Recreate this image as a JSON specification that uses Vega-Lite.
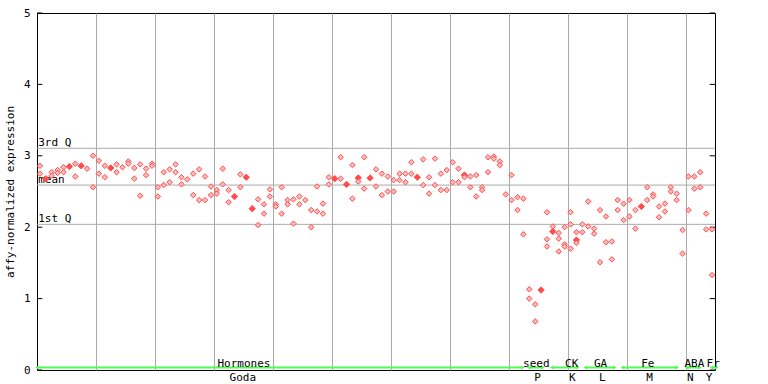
{
  "$schema": "https://vega.github.io/schema/vega-lite/v6.json",
  "width": 678,
  "height": 357,
  "autosize": "none",
  "padding": {"left": 37, "top": 13, "right": 53, "bottom": 14},
  "background": "white",
  "config": {
    "font": "DejaVu Sans Mono",
    "view": {"stroke": "black", "strokeWidth": 1},
    "axis": {"labelFont": "DejaVu Sans Mono", "titleFont": "DejaVu Sans Mono"}
  },
  "datasets": {
    "pts": [
      {"s":0,"v":2.86,"n":1},{"s":0,"v":2.75,"n":1},
      {"s":1,"v":2.68,"n":2},
      {"s":2,"v":2.77,"n":1},{"s":2,"v":2.72,"n":1},
      {"s":3,"v":2.80,"n":1},{"s":3,"v":2.76,"n":1},
      {"s":4,"v":2.84,"n":1},{"s":4,"v":2.77,"n":1},
      {"s":5,"v":2.85,"n":2},
      {"s":6,"v":2.89,"n":1},{"s":6,"v":2.71,"n":1},
      {"s":7,"v":2.86,"n":2},
      {"s":8,"v":2.82,"n":1},
      {"s":9,"v":3.00,"n":1},{"s":9,"v":2.56,"n":1},
      {"s":10,"v":2.93,"n":1},{"s":10,"v":2.75,"n":1},
      {"s":11,"v":2.86,"n":1},{"s":11,"v":2.70,"n":1},
      {"s":12,"v":2.83,"n":2},
      {"s":13,"v":2.88,"n":1},{"s":13,"v":2.77,"n":1},
      {"s":14,"v":2.84,"n":1},
      {"s":15,"v":2.92,"n":1},{"s":15,"v":2.89,"n":1},
      {"s":16,"v":2.83,"n":1},{"s":16,"v":2.68,"n":1},
      {"s":17,"v":2.88,"n":1},{"s":17,"v":2.44,"n":1},
      {"s":18,"v":2.82,"n":1},{"s":18,"v":2.73,"n":1},
      {"s":19,"v":2.89,"n":1},{"s":19,"v":2.86,"n":1},
      {"s":20,"v":2.56,"n":1},{"s":20,"v":2.43,"n":1},
      {"s":21,"v":2.77,"n":1},{"s":21,"v":2.59,"n":1},
      {"s":22,"v":2.81,"n":1},{"s":22,"v":2.63,"n":1},
      {"s":23,"v":2.88,"n":1},{"s":23,"v":2.77,"n":1},
      {"s":24,"v":2.70,"n":1},{"s":24,"v":2.60,"n":1},
      {"s":25,"v":2.67,"n":1},
      {"s":26,"v":2.75,"n":1},{"s":26,"v":2.45,"n":1},
      {"s":27,"v":2.81,"n":1},{"s":27,"v":2.38,"n":1},
      {"s":28,"v":2.71,"n":1},{"s":28,"v":2.38,"n":1},
      {"s":29,"v":2.57,"n":1},{"s":29,"v":2.45,"n":1},
      {"s":30,"v":2.52,"n":1},{"s":30,"v":2.47,"n":1},
      {"s":31,"v":2.82,"n":1},{"s":31,"v":2.60,"n":1},
      {"s":32,"v":2.52,"n":1},{"s":32,"v":2.35,"n":1},
      {"s":33,"v":2.43,"n":2},
      {"s":34,"v":2.74,"n":1},{"s":34,"v":2.56,"n":1},
      {"s":35,"v":2.70,"n":2},
      {"s":36,"v":2.26,"n":2},
      {"s":37,"v":2.39,"n":1},{"s":37,"v":2.03,"n":1},
      {"s":38,"v":2.32,"n":1},{"s":38,"v":2.19,"n":1},
      {"s":39,"v":2.53,"n":1},{"s":39,"v":2.43,"n":1},
      {"s":40,"v":2.32,"n":1},{"s":40,"v":2.29,"n":1},
      {"s":41,"v":2.56,"n":1},{"s":41,"v":2.19,"n":1},
      {"s":42,"v":2.38,"n":1},{"s":42,"v":2.32,"n":1},
      {"s":43,"v":2.39,"n":1},{"s":43,"v":2.05,"n":1},
      {"s":44,"v":2.43,"n":1},{"s":44,"v":2.32,"n":1},
      {"s":45,"v":2.38,"n":1},
      {"s":46,"v":2.24,"n":1},{"s":46,"v":2.00,"n":1},
      {"s":47,"v":2.57,"n":1},{"s":47,"v":2.22,"n":1},
      {"s":48,"v":2.33,"n":1},{"s":48,"v":2.19,"n":1},
      {"s":49,"v":2.70,"n":1},{"s":49,"v":2.60,"n":1},
      {"s":50,"v":2.68,"n":2},
      {"s":51,"v":2.98,"n":1},{"s":51,"v":2.68,"n":1},
      {"s":52,"v":2.60,"n":2},
      {"s":53,"v":2.87,"n":1},{"s":53,"v":2.40,"n":1},
      {"s":54,"v":2.69,"n":2},{"s":54,"v":2.64,"n":1},
      {"s":55,"v":2.98,"n":1},{"s":55,"v":2.54,"n":1},
      {"s":56,"v":2.69,"n":2},
      {"s":57,"v":2.81,"n":1},{"s":57,"v":2.57,"n":1},
      {"s":58,"v":2.75,"n":1},{"s":58,"v":2.45,"n":1},
      {"s":59,"v":2.71,"n":1},{"s":59,"v":2.50,"n":1},
      {"s":60,"v":2.66,"n":1},{"s":60,"v":2.50,"n":1},
      {"s":61,"v":2.75,"n":1},{"s":61,"v":2.66,"n":1},
      {"s":62,"v":2.75,"n":1},{"s":62,"v":2.63,"n":1},
      {"s":63,"v":2.91,"n":1},{"s":63,"v":2.75,"n":1},
      {"s":64,"v":2.70,"n":2},
      {"s":65,"v":2.95,"n":1},{"s":65,"v":2.59,"n":1},
      {"s":66,"v":2.70,"n":1},{"s":66,"v":2.47,"n":1},
      {"s":67,"v":2.96,"n":1},{"s":67,"v":2.59,"n":1},
      {"s":68,"v":2.75,"n":1},{"s":68,"v":2.52,"n":1},
      {"s":69,"v":2.80,"n":1},{"s":69,"v":2.52,"n":1},
      {"s":70,"v":2.91,"n":1},{"s":70,"v":2.63,"n":1},
      {"s":71,"v":2.82,"n":1},{"s":71,"v":2.63,"n":1},
      {"s":72,"v":2.73,"n":2},{"s":72,"v":2.70,"n":1},
      {"s":73,"v":2.71,"n":1},{"s":73,"v":2.56,"n":1},
      {"s":74,"v":2.73,"n":1},{"s":74,"v":2.43,"n":1},
      {"s":75,"v":2.56,"n":1},{"s":75,"v":2.52,"n":1},
      {"s":76,"v":2.98,"n":1},{"s":76,"v":2.77,"n":1},
      {"s":77,"v":2.99,"n":1},{"s":77,"v":2.96,"n":1},
      {"s":78,"v":2.92,"n":1},{"s":78,"v":2.87,"n":1},
      {"s":79,"v":2.46,"n":1},
      {"s":80,"v":2.73,"n":1},{"s":80,"v":2.38,"n":1},
      {"s":81,"v":2.42,"n":1},{"s":81,"v":2.24,"n":1},
      {"s":82,"v":2.40,"n":1},{"s":82,"v":1.90,"n":1},
      {"s":83,"v":1.13,"n":1},{"s":83,"v":1.00,"n":1},
      {"s":84,"v":0.92,"n":1},{"s":84,"v":0.68,"n":1},
      {"s":85,"v":1.12,"n":2},
      {"s":86,"v":2.21,"n":1},{"s":86,"v":1.83,"n":1},{"s":86,"v":1.73,"n":1},
      {"s":87,"v":1.94,"n":2},{"s":87,"v":2.01,"n":1},
      {"s":88,"v":1.92,"n":1},{"s":88,"v":1.84,"n":1},{"s":88,"v":1.66,"n":1},
      {"s":89,"v":2.00,"n":1},{"s":89,"v":1.76,"n":1},{"s":89,"v":1.73,"n":1},
      {"s":90,"v":2.21,"n":1},{"s":90,"v":2.04,"n":1},{"s":90,"v":1.70,"n":1},
      {"s":91,"v":1.93,"n":1},{"s":91,"v":1.82,"n":2},{"s":91,"v":1.78,"n":1},
      {"s":92,"v":2.04,"n":1},{"s":92,"v":1.93,"n":1},
      {"s":93,"v":2.36,"n":1},{"s":93,"v":2.01,"n":1},
      {"s":94,"v":1.98,"n":1},{"s":94,"v":1.91,"n":1},
      {"s":95,"v":2.24,"n":1},{"s":95,"v":1.51,"n":1},
      {"s":96,"v":2.15,"n":1},{"s":96,"v":1.79,"n":1},
      {"s":97,"v":1.80,"n":1},{"s":97,"v":1.55,"n":1},
      {"s":98,"v":2.38,"n":1},{"s":98,"v":2.24,"n":1},
      {"s":99,"v":2.33,"n":1},{"s":99,"v":2.10,"n":1},
      {"s":100,"v":2.38,"n":1},{"s":100,"v":2.15,"n":1},
      {"s":101,"v":2.24,"n":1},{"s":101,"v":1.98,"n":1},
      {"s":102,"v":2.29,"n":2},
      {"s":103,"v":2.56,"n":1},{"s":103,"v":2.38,"n":1},
      {"s":104,"v":2.46,"n":1},{"s":104,"v":2.43,"n":1},
      {"s":105,"v":2.29,"n":1},{"s":105,"v":2.14,"n":1},
      {"s":106,"v":2.33,"n":1},{"s":106,"v":2.22,"n":1},
      {"s":107,"v":2.56,"n":1},{"s":107,"v":2.50,"n":1},
      {"s":108,"v":2.47,"n":1},{"s":108,"v":2.38,"n":1},
      {"s":109,"v":1.96,"n":1},{"s":109,"v":1.63,"n":1},
      {"s":110,"v":2.71,"n":1},{"s":110,"v":2.24,"n":1},
      {"s":111,"v":2.71,"n":1},{"s":111,"v":2.54,"n":1},
      {"s":112,"v":2.77,"n":1},{"s":112,"v":2.56,"n":1},
      {"s":113,"v":2.19,"n":1},{"s":113,"v":1.97,"n":1},
      {"s":114,"v":1.97,"n":1},{"s":114,"v":1.33,"n":1}
    ],
    "q": [
      {"name": "3rd Q", "v": 3.105},
      {"name": "mean", "v": 2.59},
      {"name": "1st Q", "v": 2.04}
    ],
    "groups": [
      {"tissue": "Hormones", "set": "Goda", "start": -0.5, "end": 81.9, "tx": 34.6, "sx": 34.4},
      {"tissue": "seed", "set": "P", "start": 82.9, "end": 85.3, "tx": 84.2, "sx": 84.4},
      {"tissue": "CK", "set": "K", "start": 86.8, "end": 91.2, "tx": 90.2, "sx": 90.3},
      {"tissue": "GA", "set": "L", "start": 92.5, "end": 97.5, "tx": 95.1, "sx": 95.4},
      {"tissue": "Fe", "set": "M", "start": 98.8, "end": 108.1, "tx": 103.1, "sx": 103.4},
      {"tissue": "ABA", "set": "N", "start": 109.7, "end": 111.9, "tx": 111.0, "sx": 110.3},
      {"tissue": "Fr", "set": "Y", "start": 113.9, "end": 114.8, "tx": 114.2, "sx": 113.5}
    ],
    "ticks": [{"t": 0}, {"t": 1}, {"t": 2}, {"t": 3}, {"t": 4}, {"t": 5}]
  },
  "layer": [
    {
      "data": {"name": "q"},
      "mark": {"type": "rule", "color": "#aaaaaa", "strokeWidth": 1},
      "encoding": {
        "y": {"field": "v", "type": "quantitative", "scale": {"domain": [0, 5], "nice": false, "zero": false},
          "axis": {"values": [0, 1, 2, 3, 4, 5], "format": "d", "ticks": false, "domain": false, "grid": false, "labelFontSize": 11, "labelColor": "black", "labelPadding": 7,
            "title": "affy-normalized expression", "titleFontSize": 11, "titleFontWeight": "normal", "titleColor": "black", "titlePadding": 8}}
      }
    },
    {
      "data": {"name": "q"},
      "mark": {"type": "text", "align": "left", "baseline": "alphabetic", "dy": -2, "fontSize": 11, "color": "black", "font": "DejaVu Sans Mono"},
      "encoding": {
        "x": {"datum": -0.3, "type": "quantitative"},
        "y": {"field": "v", "type": "quantitative"},
        "text": {"field": "name"}
      }
    },
    {
      "data": {"name": "ticks"},
      "mark": {"type": "rule", "color": "black"},
      "encoding": {
        "y": {"field": "t", "type": "quantitative"},
        "x": {"datum": -0.5, "type": "quantitative"},
        "x2": {"datum": 0.4}
      }
    },
    {
      "data": {"name": "ticks"},
      "mark": {"type": "rule", "color": "black"},
      "encoding": {
        "y": {"field": "t", "type": "quantitative"},
        "x": {"datum": 113.6, "type": "quantitative"},
        "x2": {"datum": 114.5}
      }
    },
    {
      "data": {"name": "pts"},
      "mark": {"type": "point", "shape": "diamond", "filled": false, "strokeWidth": 1, "opacity": 1},
      "encoding": {
        "x": {"field": "s", "type": "quantitative", "scale": {"domain": [-0.5, 114.5], "nice": false, "zero": false},
          "axis": {"values": [9.5, 19.5, 29.5, 39.5, 49.5, 59.5, 69.5, 79.5, 89.5, 99.5, 109.5], "grid": true, "gridColor": "#aaaaaa", "gridOpacity": 1, "labels": false, "ticks": false, "domain": false, "title": null}},
        "y": {"field": "v", "type": "quantitative"},
        "fill": {"condition": {"test": "datum.n == 2", "value": "#ff4d4d"}, "value": "#ffbaba"},
        "stroke": {"value": "#ff4d4d"},
        "size": {"condition": {"test": "datum.n == 2", "value": 40}, "value": 30}
      }
    },
    {
      "data": {"name": "groups"},
      "mark": {"type": "rule", "color": "#4cff4c", "strokeWidth": 2},
      "encoding": {
        "x": {"field": "start", "type": "quantitative"},
        "x2": {"field": "end"},
        "y": {"datum": 0.035, "type": "quantitative"}
      }
    },
    {
      "data": {"name": "groups"},
      "mark": {"type": "point", "shape": "triangle-left", "filled": true, "color": "#4cff4c", "size": 18, "opacity": 1},
      "encoding": {
        "x": {"field": "start", "type": "quantitative"},
        "y": {"datum": 0.035, "type": "quantitative"}
      }
    },
    {
      "data": {"name": "groups"},
      "mark": {"type": "point", "shape": "triangle-right", "filled": true, "color": "#4cff4c", "size": 18, "opacity": 1},
      "encoding": {
        "x": {"field": "end", "type": "quantitative"},
        "y": {"datum": 0.035, "type": "quantitative"}
      }
    },
    {
      "data": {"name": "groups"},
      "mark": {"type": "text", "align": "center", "baseline": "alphabetic", "dy": -3, "fontSize": 11, "color": "black", "font": "DejaVu Sans Mono"},
      "encoding": {
        "x": {"field": "tx", "type": "quantitative"},
        "y": {"datum": 0, "type": "quantitative"},
        "text": {"field": "tissue"}
      }
    },
    {
      "data": {"name": "groups"},
      "mark": {"type": "text", "align": "center", "baseline": "top", "dy": 2, "fontSize": 11, "color": "black", "font": "DejaVu Sans Mono"},
      "encoding": {
        "x": {"field": "sx", "type": "quantitative"},
        "y": {"datum": 0, "type": "quantitative"},
        "text": {"field": "set"}
      }
    }
  ]
}
